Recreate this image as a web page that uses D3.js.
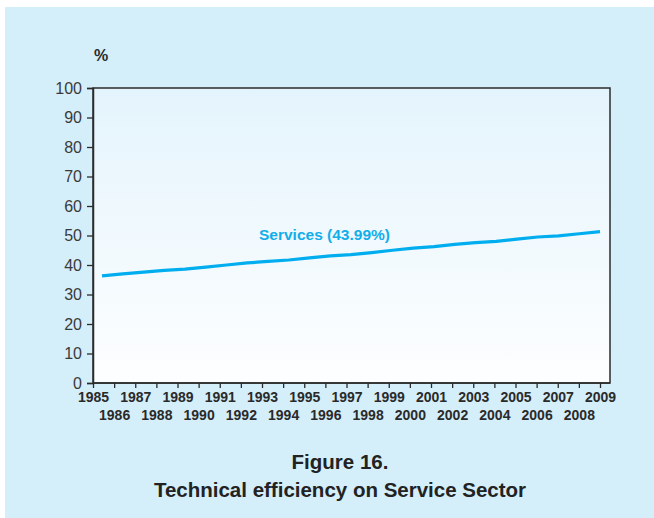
<!DOCTYPE html>
<html>
<head>
<meta charset="utf-8">
<script src="https://cdn.jsdelivr.net/npm/d3@7"></script>
<style>
  body { margin: 0; background: #fff; }
  svg { display: block; }
</style>
</head>
<body>
<div id="chart"></div>
<script>
var years = d3.range(1985, 2010);
var services = [36.3, 37.0, 37.6, 38.2, 38.6, 39.3, 40.0, 40.7, 41.2, 41.7, 42.4, 43.1, 43.5,
                44.2, 45.0, 45.7, 46.2, 47.0, 47.6, 48.0, 48.8, 49.5, 49.9, 50.6, 51.3];
var yTicks = [0, 10, 20, 30, 40, 50, 60, 70, 80, 90, 100];
var seriesLabel = "Services (43.99%)";
var titleLines = ["Figure 16.", "Technical efficiency on Service Sector"];

var width = 654, height = 518;
var plot = { left: 93, top: 88, right: 610, bottom: 383 };

var svg = d3.select("#chart").append("svg")
    .attr("width", width)
    .attr("height", height);

var defs = svg.append("defs");
var grad = defs.append("linearGradient")
    .attr("id", "plotbg")
    .attr("x1", 0).attr("y1", 0).attr("x2", 0).attr("y2", 1);
grad.append("stop").attr("offset", "0%").attr("stop-color", "#e4f4fc");
grad.append("stop").attr("offset", "100%").attr("stop-color", "#fdfeff");

// outer panel
svg.append("rect")
    .attr("x", 5).attr("y", 7)
    .attr("width", width - 5).attr("height", height - 7)
    .attr("fill", "#d4eefa");

// plot area
svg.append("rect")
    .attr("x", plot.left).attr("y", plot.top)
    .attr("width", plot.right - plot.left)
    .attr("height", plot.bottom - plot.top)
    .attr("fill", "url(#plotbg)")
    .attr("stroke", "#2b2b2b")
    .attr("stroke-width", 1.5);

var y = d3.scaleLinear().domain([0, 100]).range([plot.bottom, plot.top]);
// ticks sit on the year marks, the line is offset a bit inside
var xTick = d3.scalePoint().domain(years).range([plot.left, 600]);
var xLine = d3.scaleLinear().domain([1985, 2009]).range([102, 600]);

var yAxis = d3.axisLeft(y).tickValues(yTicks).tickSize(6).tickPadding(5);
var gy = svg.append("g")
    .attr("transform", "translate(" + plot.left + ",0)")
    .call(yAxis);
gy.select(".domain").attr("stroke", "#2b2b2b").attr("stroke-width", 1.5);
gy.selectAll(".tick line").attr("stroke", "#2b2b2b").attr("stroke-width", 1.3);
gy.selectAll(".tick text")
    .attr("fill", "#3a3a3a")
    .style("font-family", "'Liberation Sans Narrow', 'Liberation Sans', sans-serif")
    .style("font-size", "16px");

var xAxis = d3.axisBottom(xTick).tickSize(5).tickPadding(4);
var gx = svg.append("g")
    .attr("transform", "translate(0," + plot.bottom + ")")
    .call(xAxis);
gx.select(".domain").remove();
gx.append("line")
    .attr("x1", plot.left).attr("x2", plot.right)
    .attr("stroke", "#2b2b2b").attr("stroke-width", 1.5);
gx.selectAll(".tick line").attr("stroke", "#2b2b2b").attr("stroke-width", 1.3);
gx.selectAll(".tick text")
    .attr("fill", "#2a2a2a")
    .attr("dy", function(d, i) { return i % 2 === 0 ? "0.71em" : "2.0em"; })
    .style("font-family", "'Liberation Sans Narrow', 'Liberation Sans', sans-serif")
    .style("font-weight", "bold")
    .style("font-size", "14px");

svg.append("text")
    .attr("x", 101).attr("y", 61)
    .attr("text-anchor", "middle")
    .attr("fill", "#2a2a2a")
    .style("font-family", "'Liberation Sans', sans-serif")
    .style("font-weight", "bold")
    .style("font-size", "16px")
    .text("%");

var line = d3.line()
    .x(function(d, i) { return xLine(years[i]); })
    .y(function(d) { return y(d); });

svg.append("path")
    .datum(services)
    .attr("d", line)
    .attr("fill", "none")
    .attr("stroke", "#00aeef")
    .attr("stroke-width", 3.2)
    .attr("stroke-linejoin", "round");

svg.append("text")
    .attr("x", 259).attr("y", 240)
    .attr("fill", "#12aeea")
    .style("font-family", "'Liberation Sans Narrow', 'Liberation Sans', sans-serif")
    .style("font-weight", "bold")
    .style("font-size", "15.5px")
    .text(seriesLabel);

svg.selectAll(".title")
    .data(titleLines)
    .enter().append("text")
    .attr("class", "title")
    .attr("x", 340)
    .attr("y", function(d, i) { return 469 + i * 28; })
    .attr("text-anchor", "middle")
    .attr("fill", "#222")
    .style("font-family", "'Liberation Sans', Arial, sans-serif")
    .style("font-weight", "bold")
    .style("font-size", "20.5px")
    .text(function(d) { return d; });
</script>
</body>
</html>
